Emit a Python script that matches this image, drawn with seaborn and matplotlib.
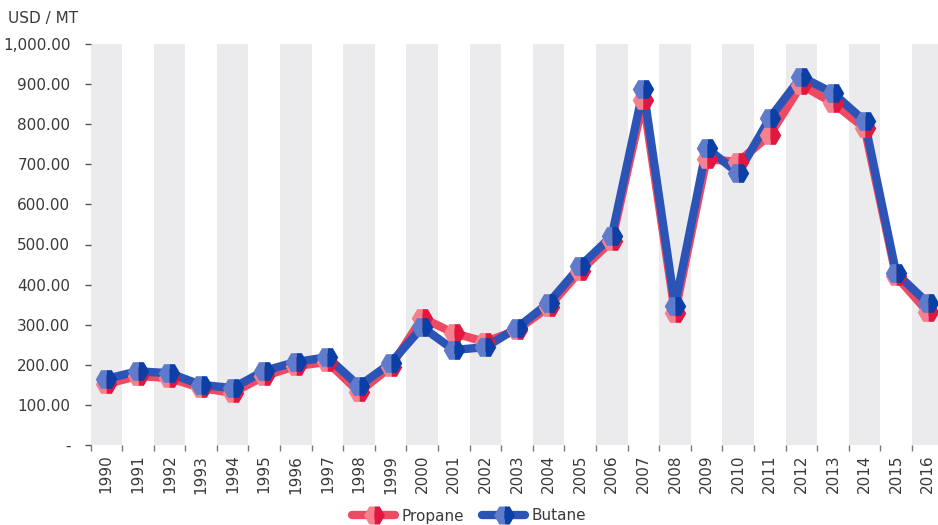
import pandas as pd
import seaborn as sns
import matplotlib.pyplot as plt
from matplotlib.lines import Line2D

# Annual LPG contract prices, USD per metric ton
years = list(range(1990, 2017))
propane = [152, 172, 167, 142, 130, 172, 197, 207, 132, 195, 317, 279, 257, 287,
           344, 434, 509, 860, 329, 713, 706, 773, 898, 853, 791, 421, 332]
butane = [165, 184, 179, 150, 142, 185, 207, 219, 147, 204, 294, 237, 244, 292,
          354, 446, 521, 888, 347, 741, 678, 815, 918, 878, 808, 429, 354]
series_names = ["Propane", "Butane"]
y_ticks = [0, 100, 200, 300, 400, 500, 600, 700, 800, 900, 1000]

n = len(years)
df = pd.DataFrame({
    "pos": list(range(n)) * 2,
    "series": [series_names[0]] * n + [series_names[1]] * n,
    "value": propane + butane,
})

sns.set_theme(style="white")
plt.rcParams["font.family"] = ["DejaVu Sans"]
text_col = "#3a3a3a"

styles = {
    "Propane": dict(line="#ee4a63", light="#f5808e", dark="#e2173f"),
    "Butane": dict(line="#2c53b6", light="#5f7bcc", dark="#0b3fa6"),
}

W, H = 938, 525
fig = plt.figure(figsize=(W / 100, H / 100), dpi=100)
ax = fig.add_axes([90.5 / W, 80 / H, 853 / W, 401 / H])

# alternating column bands
for i in range(0, n, 2):
    ax.axvspan(i - 0.5, i + 0.5, color="#ebebed", lw=0, zorder=0)

# lines first, then markers on top
for k, name in enumerate(series_names):
    st = styles[name]
    sns.lineplot(data=df[df["series"] == name], x="pos", y="value", ax=ax,
                 color=st["line"], lw=6, zorder=2 + k, legend=False,
                 solid_joinstyle="round")
for k, name in enumerate(series_names):
    st = styles[name]
    sns.lineplot(data=df[df["series"] == name], x="pos", y="value", ax=ax,
                 linestyle="none", marker="H", markersize=15.5,
                 markerfacecolor=st["light"], markerfacecoloralt=st["dark"],
                 fillstyle="left", markeredgewidth=0,
                 zorder=4 + k, legend=False)

ax.set_xlim(-0.5, n - 0.5)
ax.set_ylim(0, 1000)
for s in ax.spines.values():
    s.set_visible(False)

# boundaries get tick marks, centres get year labels
ax.set_xticks([i - 0.5 for i in range(n + 1)])
ax.set_xticklabels([])
ax.set_xticks(list(range(n)), minor=True)
ax.set_xticklabels([str(y) for y in years], minor=True, rotation=90,
                   fontsize=11, color=text_col)
ax.tick_params(axis="x", which="major", bottom=True, length=4, width=1,
               color="#777777", direction="out")
ax.tick_params(axis="x", which="minor", bottom=True, length=0, pad=7)

ax.set_yticks(y_ticks)
ax.set_yticklabels(["-" if v == 0 else f"{v:,.2f}" for v in y_ticks],
                   fontsize=11, color=text_col)
ax.tick_params(axis="y", left=True, length=4.5, width=1, color="#555555",
               pad=10)
ax.set_xlabel("")
ax.set_ylabel("")
ax.grid(False)

fig.text(8 / W, 1 - 18 / H, "USD / MT", fontsize=11, color=text_col,
         va="center", ha="left")

handles = [
    Line2D([], [], color=styles[nm]["line"], lw=6, marker="H", markersize=15,
           markerfacecolor=styles[nm]["light"],
           markerfacecoloralt=styles[nm]["dark"], fillstyle="left",
           markeredgewidth=0)
    for nm in series_names
]
fig.legend(handles, series_names, loc="center", bbox_to_anchor=(0.5, 9 / H),
           ncol=2, frameon=False, fontsize=11, handlelength=2.8,
           columnspacing=1.2, handletextpad=0.4, labelcolor=text_col)

fig.savefig("out.png", dpi=100)
